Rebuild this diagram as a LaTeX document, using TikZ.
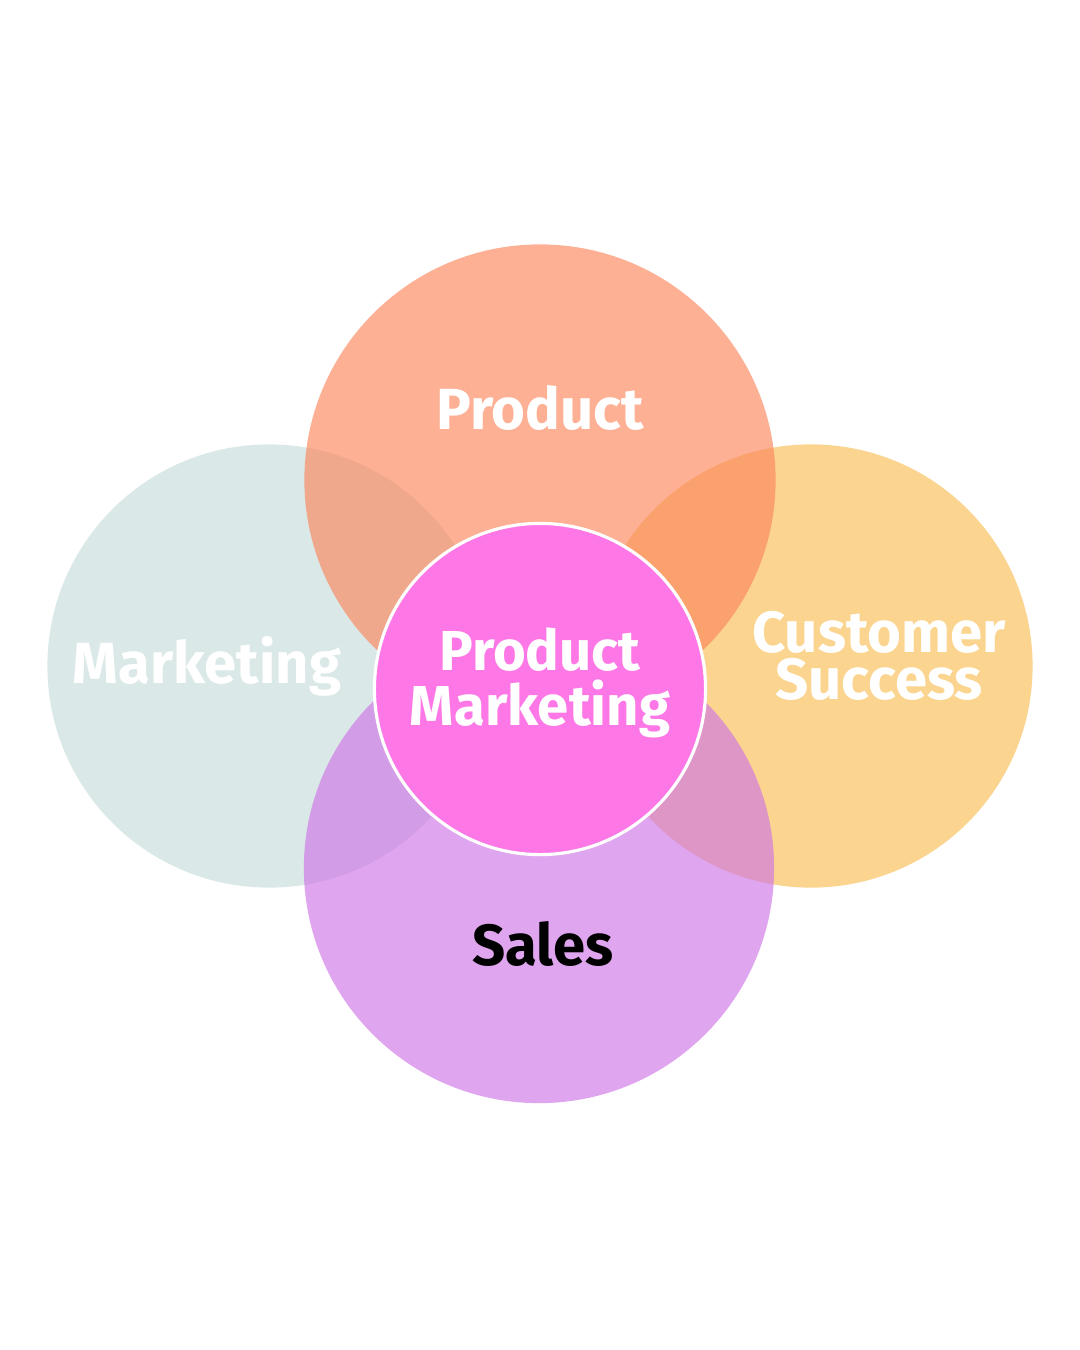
\documentclass[tikz,border=0pt]{standalone}
\usepackage{fontspec}
\usepackage{xcolor}
\setmainfont{Fira Sans}
\definecolor{mkt}{RGB}{201,221,221}
\definecolor{cus}{RGB}{249,192,84}
\definecolor{prd}{RGB}{252,134,92}
\definecolor{sal}{RGB}{206,117,229}
\definecolor{pmk}{RGB}{253,120,230}
\tikzstyle{bubble} = [circle, inner sep=0pt, fill opacity=0.65]
\tikzstyle{lbl} = [text=white, font=\fontsize{16.5}{16}\selectfont\bfseries, align=center]

\begin{document}
\begin{tikzpicture}[x=0.01cm, y=-0.01cm]
\fill[white] (0,0) rectangle (1080,1350);
\useasboundingbox (0,0) rectangle (1080,1350);

\node[bubble, fill=mkt, minimum size=4.43cm] (marketing) at (269,666) {};
\node[bubble, fill=cus, minimum size=4.43cm] (success) at (811,666) {};
\node[bubble, fill=prd, minimum size=4.71cm] (product) at (540,480) {};
\node[bubble, fill=sal, minimum size=4.70cm] (sales) at (539,868) {};
\node[circle, inner sep=0pt, fill=pmk, draw=white, line width=0.9pt, minimum size=3.31cm] (core) at (540,689) {};

\node[lbl] (tproduct) at (540,408) {Product};
\node[lbl] (tmarketing) at (207,666) {Marketing};
\node[lbl, font=\fontsize{16.5}{13.5}\selectfont\bfseries] (tsuccess) at (879,656) {Customer\\Success};
\node[lbl, font=\fontsize{16}{15.5}\selectfont\bfseries] (tcore) at (540,683) {Product\\Marketing};
\node[lbl, text=black] (tsales) at (543,944) {Sales};

\end{tikzpicture}
\end{document}
